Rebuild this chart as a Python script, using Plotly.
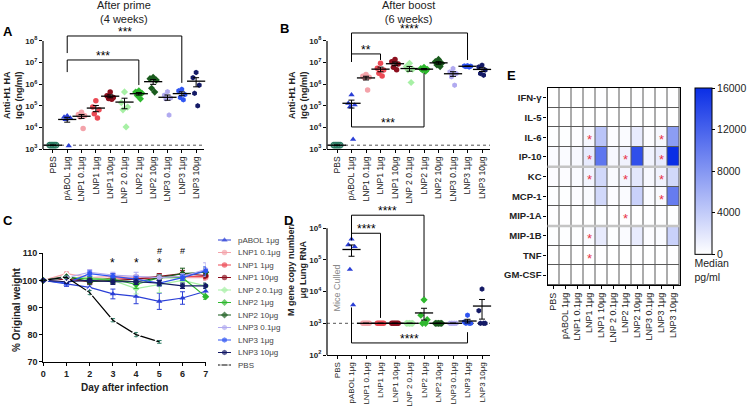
import numpy as np
import plotly.graph_objects as go

W, H = 748, 407
FONT = "Arial, 'Liberation Sans', sans-serif"

# ---------------- categories ----------------
groups = ["PBS", "pABOL 1μg", "LNP1 0.1μg", "LNP1 1μg", "LNP1 10μg", "LNP 2 0.1μg",
          "LNP2 1μg", "LNP2 10μg", "LNP3 0.1μg", "LNP3 1μg", "LNP3 10μg"]
colors = ["#2a7a62", "#2b3fd6", "#f4a3aa", "#ec4a55", "#8c0f1e", "#a7f0a5",
          "#2fb82f", "#1b5c1e", "#b1aaf0", "#2f55f2", "#141a66"]
symbols = ["circle-open", "triangle-up", "circle", "circle", "circle", "diamond",
           "diamond", "diamond", "hexagon", "hexagon", "hexagon"]

# ---------------- Panel A: anti-H1 HA IgG after prime (ng/ml) ----------------
prime_pbs = [1500, 1500, 1500, 1500, 1500]
prime_pabol = [35000, 30000, 27000, 23000, 1400]
prime_lnp1_01 = [50000, 40000, 35000, 30000, 9000]
prime_lnp1_1 = [170000, 87000, 65000, 43000, 27000]
prime_lnp1_10 = [440000, 290000, 240000, 220000, 200000]
prime_lnp2_01 = [440000, 140000, 87000, 65000, 10500]
prime_lnp2_1 = [490000, 430000, 380000, 300000, 210000]
prime_lnp2_10 = [2100000, 1800000, 1550000, 650000, 430000]
prime_lnp3_01 = [450000, 310000, 230000, 210000, 37000]
prime_lnp3_1 = [580000, 490000, 330000, 240000, 190000]
prime_lnp3_10 = [3500000, 2000000, 900000, 380000, 100000]

# ---------------- Panel B: after boost ----------------
boost_pbs = [1500, 1500, 1500, 1500, 1500]
boost_pabol = [320000, 130000, 110000, 90000, 2800]
boost_lnp1_01 = [2800000, 2300000, 2100000, 2000000, 540000]
boost_lnp1_1 = [9300000, 5400000, 4500000, 3200000, 2400000]
boost_lnp1_10 = [14000000, 11000000, 8600000, 6000000, 4600000]
boost_lnp2_01 = [9300000, 6500000, 4900000, 4600000, 1200000]
boost_lnp2_1 = [6000000, 5300000, 4900000, 4600000, 4000000]
boost_lnp2_10 = [14000000, 11000000, 9300000, 7700000, 6500000]
boost_lnp3_01 = [5300000, 3700000, 3100000, 2200000, 900000]
boost_lnp3_1 = [7200000, 7000000, 6800000, 6500000, 6200000]
boost_lnp3_10 = [7600000, 6300000, 4500000, 3100000, 2600000]
igg_limit = 1500

# ---------------- Panel C: % original weight ----------------
days = [0, 1, 2, 3, 4, 5, 6, 7]
wt_pabol = [100, 98.6, 97.4, 95.0, 94.1, 92.3, 93.5, 96.0]
wt_pabol_sem = [0, 0.8, 1.0, 1.8, 2.7, 3.0, 2.3, 1.5]
wt_lnp1_01 = [100, 102.5, 101.0, 101.5, 101.0, 101.5, 101.0, 101.0]
wt_lnp1_01_sem = [0, 0.6, 0.8, 1.0, 1.0, 1.0, 1.0, 1.0]
wt_lnp1_1 = [100, 101.0, 99.5, 101.0, 100.5, 101.0, 101.5, 101.5]
wt_lnp1_1_sem = [0, 0.6, 0.8, 1.0, 1.0, 1.0, 1.0, 1.0]
wt_lnp1_10 = [100, 100.5, 99.5, 100.0, 100.5, 101.5, 102.5, 101.8]
wt_lnp1_10_sem = [0, 0.6, 0.8, 1.0, 1.2, 1.0, 1.2, 1.0]
wt_lnp2_01 = [100, 101.0, 101.0, 100.0, 97.0, 98.5, 100.0, 98.0]
wt_lnp2_01_sem = [0, 0.6, 0.8, 1.2, 2.0, 3.0, 1.5, 1.0]
wt_lnp2_1 = [100, 101.0, 100.5, 100.5, 98.5, 101.0, 101.0, 94.0]
wt_lnp2_1_sem = [0, 0.6, 0.8, 1.0, 1.5, 1.0, 1.0, 1.0]
wt_lnp2_10 = [100, 101.5, 99.5, 100.0, 99.5, 101.0, 102.5, 103.0]
wt_lnp2_10_sem = [0, 0.6, 0.8, 1.0, 1.0, 1.0, 2.0, 1.5]
wt_lnp3_01 = [100, 101.0, 103.0, 102.0, 101.5, 101.0, 101.5, 104.0]
wt_lnp3_01_sem = [0, 0.6, 1.0, 1.0, 1.5, 1.0, 1.0, 2.5]
wt_lnp3_1 = [100, 99.0, 102.5, 101.5, 100.5, 99.0, 101.0, 103.5]
wt_lnp3_1_sem = [0, 0.6, 1.0, 1.0, 1.0, 1.0, 1.0, 1.5]
wt_lnp3_10 = [100, 99.5, 100.0, 99.5, 99.5, 99.0, 98.0, 98.0]
wt_lnp3_10_sem = [0, 0.6, 0.8, 1.0, 1.0, 1.0, 1.0, 1.0]
wt_pbs = [100, 101.2, 95.5, 85.3, 80.0, 77.3]
wt_pbs_sem = [0, 0.5, 0.8, 0.6, 0.8, 0.5]
star_days = [3, 4, 5]
hash_days = [5, 6]

# ---------------- Panel D: lung M gene copies ----------------
lung_pbs = []
lung_pabol = [450000, 300000, 260000, 50000, 3800]
lung_lnp1_01 = [1000, 1000, 1000, 1000, 1000]
lung_lnp1_1 = [1000, 1000, 1000, 1000, 1000]
lung_lnp1_10 = [1000, 1000, 1000, 1000, 1000]
lung_lnp2_01 = [1000, 1000, 1000, 1000, 1000]
lung_lnp2_1 = [5500, 1800, 1300, 1000, 1000]
lung_lnp2_10 = [1000, 1000, 1000, 1000, 1000]
lung_lnp3_01 = [1000, 1000, 1000, 1000, 1000]
lung_lnp3_1 = [1800, 1100, 1000, 1000, 1000]
lung_lnp3_10 = [12000, 2500, 1000, 1000, 1000]
lung_limit = 1000

# ---------------- Panel E: cytokines (median pg/ml) ----------------
cytokines = ["IFN-γ", "IL-5", "IL-6", "IP-10", "KC", "MCP-1", "MIP-1A", "MIP-1B", "TNF", "GM-CSF"]
cyt_ifng = [30, 30, 30, 30, 60, 30, 30, 50, 30, 30, 60]
cyt_il5 = [20, 20, 20, 20, 20, 20, 20, 20, 20, 20, 20]
cyt_il6 = [100, 100, 150, 500, 4500, 200, 300, 1500, 200, 500, 7500]
cyt_ip10 = [300, 300, 500, 1500, 10500, 600, 1000, 13500, 900, 1500, 16000]
cyt_kc = [200, 200, 300, 800, 3000, 400, 700, 1800, 500, 900, 3000]
cyt_mcp1 = [100, 100, 200, 400, 3000, 200, 300, 3500, 300, 400, 10000]
cyt_mip1a = [50, 50, 50, 50, 100, 50, 50, 80, 50, 50, 100]
cyt_mip1b = [100, 100, 100, 300, 1500, 100, 300, 1500, 200, 300, 3500]
cyt_tnf = [30, 30, 30, 30, 60, 30, 30, 50, 30, 30, 60]
cyt_gmcsf = [20, 20, 20, 20, 20, 20, 20, 20, 20, 20, 20]
cbar_ticks = [0, 4000, 8000, 12000, 16000]
sig_ifng = []
sig_il5 = []
sig_il6 = ["LNP1 1μg", "LNP3 1μg"]
sig_ip10 = ["LNP1 1μg", "LNP2 1μg", "LNP3 1μg"]
sig_kc = ["LNP1 1μg", "LNP2 1μg", "LNP3 1μg"]
sig_mcp1 = ["LNP3 1μg"]
sig_mip1a = ["LNP2 1μg"]
sig_mip1b = ["LNP1 1μg"]
sig_tnf = ["LNP1 1μg"]
sig_gmcsf = []

prime = [prime_pbs, prime_pabol, prime_lnp1_01, prime_lnp1_1, prime_lnp1_10, prime_lnp2_01,
         prime_lnp2_1, prime_lnp2_10, prime_lnp3_01, prime_lnp3_1, prime_lnp3_10]
boost = [boost_pbs, boost_pabol, boost_lnp1_01, boost_lnp1_1, boost_lnp1_10, boost_lnp2_01,
         boost_lnp2_1, boost_lnp2_10, boost_lnp3_01, boost_lnp3_1, boost_lnp3_10]
lung = [lung_pbs, lung_pabol, lung_lnp1_01, lung_lnp1_1, lung_lnp1_10, lung_lnp2_01,
        lung_lnp2_1, lung_lnp2_10, lung_lnp3_01, lung_lnp3_1, lung_lnp3_10]
weights = {"pABOL 1μg": (wt_pabol, wt_pabol_sem), "LNP1 0.1μg": (wt_lnp1_01, wt_lnp1_01_sem),
           "LNP1 1μg": (wt_lnp1_1, wt_lnp1_1_sem), "LNP1 10μg": (wt_lnp1_10, wt_lnp1_10_sem),
           "LNP 2 0.1μg": (wt_lnp2_01, wt_lnp2_01_sem), "LNP2 1μg": (wt_lnp2_1, wt_lnp2_1_sem),
           "LNP2 10μg": (wt_lnp2_10, wt_lnp2_10_sem), "LNP3 0.1μg": (wt_lnp3_01, wt_lnp3_01_sem),
           "LNP3 1μg": (wt_lnp3_1, wt_lnp3_1_sem), "LNP3 10μg": (wt_lnp3_10, wt_lnp3_10_sem),
           "PBS": (wt_pbs, wt_pbs_sem)}
cyt_rows = [cyt_ifng, cyt_il5, cyt_il6, cyt_ip10, cyt_kc, cyt_mcp1, cyt_mip1a, cyt_mip1b, cyt_tnf, cyt_gmcsf]
sig_rows = [sig_ifng, sig_il5, sig_il6, sig_ip10, sig_kc, sig_mcp1, sig_mip1a, sig_mip1b, sig_tnf, sig_gmcsf]


def dx(a, b):
    return [a / W, b / W]


def dy(top, bottom):
    return [1 - bottom / H, 1 - top / H]


def px(x):
    return x / W


def py(y):
    return 1 - y / H


fig = go.Figure()
OFFS = [0.0, -0.22, 0.22, -0.11, 0.11, -0.33, 0.33]


def dot_panel(data, xa, ya):
    for i, vals in enumerate(data):
        if len(vals) == 0:
            continue
        v = np.array(vals, float)
        xs = i + np.array(OFFS[:len(v)])
        sym = symbols[i]
        fig.add_trace(go.Scatter(
            x=xs, y=v, mode="markers", xaxis=xa, yaxis=ya, cliponaxis=False,
            marker=dict(symbol=sym, size=5.5, color=colors[i],
                        line=dict(color=colors[i], width=1.3 if "open" in sym else 0)),
            showlegend=False, hoverinfo="skip"))
        m = v.mean()
        s = v.std(ddof=1) / np.sqrt(len(v))
        fig.add_trace(go.Scatter(
            x=[i], y=[m], mode="markers", xaxis=xa, yaxis=ya, cliponaxis=False,
            marker=dict(symbol="line-ew", size=13, color="black", line=dict(color="black", width=1.3)),
            error_y=dict(type="data", array=[s], color="black", thickness=1, width=3),
            showlegend=False, hoverinfo="skip"))


def limit_line(xa, ya, val):
    fig.add_trace(go.Scatter(x=[-0.69, 10.55], y=[val, val], mode="lines", xaxis=xa, yaxis=ya,
                             line=dict(color="#555", width=1, dash="dot"),
                             showlegend=False, hoverinfo="skip"))


def bracket(xa, ya, g0, g1, ytop, yl, yr, label):
    i0, i1 = groups.index(g0), groups.index(g1)
    fig.add_trace(go.Scatter(x=[i0, i0, i1, i1], y=[10 ** yl, 10 ** ytop, 10 ** ytop, 10 ** yr],
                             mode="lines", xaxis=xa, yaxis=ya, line=dict(color="black", width=1),
                             showlegend=False, hoverinfo="skip"))
    fig.add_annotation(x=(i0 + i1) / 2, y=ytop, xref=xa, yref=ya, text=label, showarrow=False,
                       xanchor="center", yanchor="bottom", yshift=-5, font=dict(size=12, color="black"))


# ---- A ----
limit_line("x", "y", igg_limit)
dot_panel(prime, "x", "y")
bracket("x", "y", "pABOL 1μg", "LNP2 1μg", 7.12, 6.56, 5.96, "***")
bracket("x", "y", "pABOL 1μg", "LNP3 1μg", 8.23, 7.44, 6.06, "***")

# ---- B ----
limit_line("x2", "y2", igg_limit)
dot_panel(boost, "x2", "y2")
bracket("x2", "y2", "pABOL 1μg", "LNP1 1μg", 7.40, 7.03, 7.12, "**")
bracket("x2", "y2", "pABOL 1μg", "LNP3 1μg", 8.37, 7.03, 7.12, "****")
bracket("x2", "y2", "pABOL 1μg", "LNP2 1μg", 4.02, 4.92, 6.52, "***")

# ---- D ----
limit_line("x4", "y4", lung_limit)
dot_panel(lung, "x4", "y4")
bracket("x4", "y4", "pABOL 1μg", "LNP1 1μg", 5.84, 5.62, 3.17, "****")
bracket("x4", "y4", "pABOL 1μg", "LNP2 1μg", 6.41, 5.62, 3.83, "****")
bracket("x4", "y4", "pABOL 1μg", "LNP3 1μg", 2.38, 3.5, 2.72, "****")
fig.add_annotation(x=0, y=4.1, xref="x4", yref="y4", text="Mice Culled", textangle=-90,
                   xanchor="center", yanchor="middle",
                   showarrow=False, font=dict(size=9, color="#888"))

# ---- C ----
wt_order = ["pABOL 1μg", "LNP1 0.1μg", "LNP1 1μg", "LNP1 10μg", "LNP 2 0.1μg", "LNP2 1μg",
            "LNP2 10μg", "LNP3 0.1μg", "LNP3 1μg", "LNP3 10μg", "PBS"]
c_sym = {"PBS": "diamond-open"}


def c_marker(g, size):
    i = groups.index(g)
    if g == "PBS":
        return dict(symbol=c_sym[g], size=size, color="white", line=dict(color=colors[i], width=1.3))
    return dict(symbol=symbols[i], size=size, color=colors[i], line=dict(width=0))


for g in wt_order:
    i = groups.index(g)
    vals, sem = weights[g]
    lc = "black" if g == "PBS" else colors[i]
    fig.add_trace(go.Scatter(
        x=days[:len(vals)], y=vals, mode="lines+markers", xaxis="x3", yaxis="y3", cliponaxis=False,
        line=dict(color=lc, width=1.2), marker=c_marker(g, 7.5 if g == "PBS" else 5.5),
        error_y=dict(type="data", array=sem, color=colors[i], thickness=1, width=2.5),
        showlegend=False, hoverinfo="skip"))
for d in star_days:
    fig.add_annotation(x=d, y=106.6, xref="x3", yref="y3", text="*", showarrow=False,
                       xanchor="center", yanchor="middle", font=dict(size=12, color="black"))
for d in hash_days:
    fig.add_annotation(x=d, y=109.9, xref="x3", yref="y3", text="#", showarrow=False, yshift=2.5,
                       xanchor="center", yanchor="middle", font=dict(size=9, color="black"))

# legend for C (custom, compact)
LEG_TOP, LEG_STEP = 240, 12.5
for k, g in enumerate(wt_order):
    i = groups.index(g)
    lc = "black" if g == "PBS" else colors[i]
    mk = c_marker(g, 5.5)
    mk["size"] = [0, 6.5 if g == "PBS" else 5.5, 0]
    fig.add_trace(go.Scatter(x=[0, 0.5, 1], y=[k, k, k], mode="lines+markers", xaxis="x6", yaxis="y6",
                             cliponaxis=False, line=dict(color=lc, width=1.2), marker=mk,
                             showlegend=False, hoverinfo="skip"))
    fig.add_annotation(x=px(236), y=py(LEG_TOP + LEG_STEP * k), xref="paper", yref="paper", text=g,
                       showarrow=False, xanchor="left", yanchor="middle", font=dict(size=8, color="#444"))

# ---- E ----
fig.add_trace(go.Heatmap(
    z=cyt_rows, x=list(range(len(groups))), y=list(range(len(cytokines))), xaxis="x5", yaxis="y5",
    zmin=0, zmax=16000, colorscale=[[0, "#ffffff"], [1, "#0a2ee6"]], xgap=1, ygap=1,
    hoverinfo="skip",
    colorbar=dict(x=px(695), xanchor="left", y=py(88), yanchor="top", len=197 / H, lenmode="fraction",
                  thickness=17, thicknessmode="pixels", xpad=0, ypad=0, outlinecolor="black", outlinewidth=1,
                  tickvals=cbar_ticks, ticktext=[str(t) for t in cbar_ticks],
                  ticks="outside", ticklen=3, tickcolor="black",
                  tickfont=dict(size=10.5, color="#222", family=FONT),
                  title=dict(text="Median<br>pg/ml", side="bottom", font=dict(size=10.5, color="#222")))))
sx, sy = [], []
for r, sig in enumerate(sig_rows):
    for g in sig:
        sx.append(groups.index(g))
        sy.append(r + 0.2)
fig.add_trace(go.Scatter(x=sx, y=sy, mode="text", text=["*"] * len(sx), xaxis="x5", yaxis="y5",
                         textfont=dict(size=13, color="#e8334a"), cliponaxis=False,
                         showlegend=False, hoverinfo="skip"))

# ---------------- axes ----------------
ylog_ticks = dict(tickvals=[10 ** k for k in range(3, 9)],
                  ticktext=["<b>10<sup>%d</sup></b>" % k for k in range(3, 9)])
cat_x = dict(tickvals=list(range(len(groups))), ticktext=groups, tickangle=-90, ticks="outside", ticklen=3,
             tickcolor="black", showline=True, linecolor="black", linewidth=1, showgrid=False, zeroline=False,
             range=[-0.69, 10.55], automargin=False)
ylog = dict(type="log", ticks="outside", ticklen=3, tickcolor="black", showline=False, showgrid=False,
            zeroline=False, tickfont=dict(size=8, color="#222"), automargin=False)

fig.update_layout(
    xaxis=dict(domain=dx(43, 204), anchor="y", tickfont=dict(size=8.5, color="#222"), **cat_x),
    yaxis=dict(domain=dy(28, 149), anchor="x", range=[3, 8.6], **ylog_ticks, **ylog),
    xaxis2=dict(domain=dx(327, 490), anchor="y2", tickfont=dict(size=8.5, color="#222"), **cat_x),
    yaxis2=dict(domain=dy(28, 149), anchor="x2", range=[3, 8.6], **ylog_ticks, **ylog),
    xaxis4=dict(domain=dx(327, 490), anchor="y4", tickfont=dict(size=8, color="#222"), **cat_x),
    yaxis4=dict(domain=dy(206, 355), anchor="x4", range=[2, 6.7],
                tickvals=[10 ** k for k in range(2, 7)],
                ticktext=["<b>10<sup>%d</sup></b>" % k for k in range(2, 7)], **ylog),
    xaxis3=dict(domain=dx(43.3, 205.7), anchor="y3", range=[0, 7], tickvals=days, ticks="outside",
                ticklen=3, tickcolor="black", showline=True, linecolor="black", linewidth=1.2,
                showgrid=False, zeroline=False, tickfont=dict(size=9, color="#222"),
                ticktext=["<b>%d</b>" % d for d in days], automargin=False),
    yaxis3=dict(domain=dy(253.3, 361.7), anchor="x3", range=[70, 110], tickvals=[70, 80, 90, 100, 110],
                ticktext=["<b>%d</b>" % v for v in [70, 80, 90, 100, 110]], ticks="outside", ticklen=3,
                tickcolor="black", showline=True, linecolor="black", linewidth=1.2, showgrid=False,
                zeroline=False, tickfont=dict(size=9, color="#222"), automargin=False),
    xaxis5=dict(domain=dx(547.5, 679.5), anchor="y5", range=[-0.5, 10.5], tickvals=list(range(len(groups))),
                ticktext=groups, tickangle=-90, ticks="outside", ticklen=3, tickcolor="black",
                showline=True, mirror=True, linecolor="black", linewidth=1.2, showgrid=False, zeroline=False,
                tickfont=dict(size=9, color="#222"), automargin=False),
    yaxis5=dict(domain=dy(88, 285), anchor="x5", range=[9.5, -0.5], tickvals=list(range(len(cytokines))),
                ticktext=["<b>%s</b>" % c for c in cytokines], ticks="outside", ticklen=3, tickcolor="black",
                showline=True, mirror=True, linecolor="black", linewidth=1.2, showgrid=False, zeroline=False,
                tickfont=dict(size=9.5, color="#222"), automargin=False),
    xaxis6=dict(domain=dx(218, 231), anchor="y6", range=[0, 1], visible=False, automargin=False),
    yaxis6=dict(domain=dy(LEG_TOP - LEG_STEP / 2, LEG_TOP + LEG_STEP * 10.5), anchor="x6",
                range=[10.5, -0.5], visible=False, automargin=False),
    width=W, height=H, margin=dict(l=0, r=0, t=0, b=0, autoexpand=False),
    paper_bgcolor="white", plot_bgcolor="white", showlegend=False,
    font=dict(family=FONT, color="#222"),
)

# y-axis lines only across labelled span (GraphPad style)
for ya, xa, frac in [("y", "x", 5 / 5.6), ("y2", "x2", 5 / 5.6), ("y4", "x4", 4 / 4.7)]:
    fig.add_shape(type="line", xref=xa + " domain", yref=ya + " domain", x0=0, x1=0, y0=0, y1=frac,
                  line=dict(color="black", width=1.2))

# heatmap grid background and separators
fig.add_shape(type="rect", xref="x5 domain", yref="y5 domain", x0=0, x1=1, y0=0, y1=1,
              fillcolor="#5a5a5a", line=dict(width=0), layer="below")
for yv in [3.5, 6.5]:
    fig.add_shape(type="line", xref="x5 domain", yref="y5", x0=0, x1=1, y0=yv, y1=yv,
                  line=dict(color="#c4c4c4", width=2.5))


# ---------------- titles / letters ----------------
def ann(x, y, text, size, angle=0, bold=False, color="#222"):
    fig.add_annotation(x=px(x), y=py(y), xref="paper", yref="paper", text=("<b>%s</b>" % text) if bold else text,
                       showarrow=False, textangle=angle, xanchor="center", yanchor="middle",
                       font=dict(size=size, color=color))


ann(123.5, 12.5, "After prime<br>(4 weeks)", 11)
ann(408.5, 12.5, "After boost<br>(6 weeks)", 11)
ann(8, 31, "A", 13, bold=True, color="black")
ann(284, 29, "B", 13, bold=True, color="black")
ann(8, 220, "C", 13, bold=True, color="black")
ann(288, 220, "D", 13, bold=True, color="black")
ann(512, 75, "E", 13, bold=True, color="black")
ann(13, 95, "Anti-H1 HA<br>IgG (ng/ml)", 9, angle=-90, bold=True)
ann(298, 95, "Anti-H1 HA<br>IgG (ng/ml)", 9, angle=-90, bold=True)
ann(16, 310, "% Original weight", 10, angle=-90, bold=True)
ann(297, 270, "M gene copy number/<br>μg Lung RNA", 9, angle=-90, bold=True)
ann(124.5, 387, "Day after infection", 10, bold=True)

fig.write_html("out.html", config={"displayModeBar": False},
               post_script="document.body.style.margin='0';document.body.style.overflow='hidden';")
